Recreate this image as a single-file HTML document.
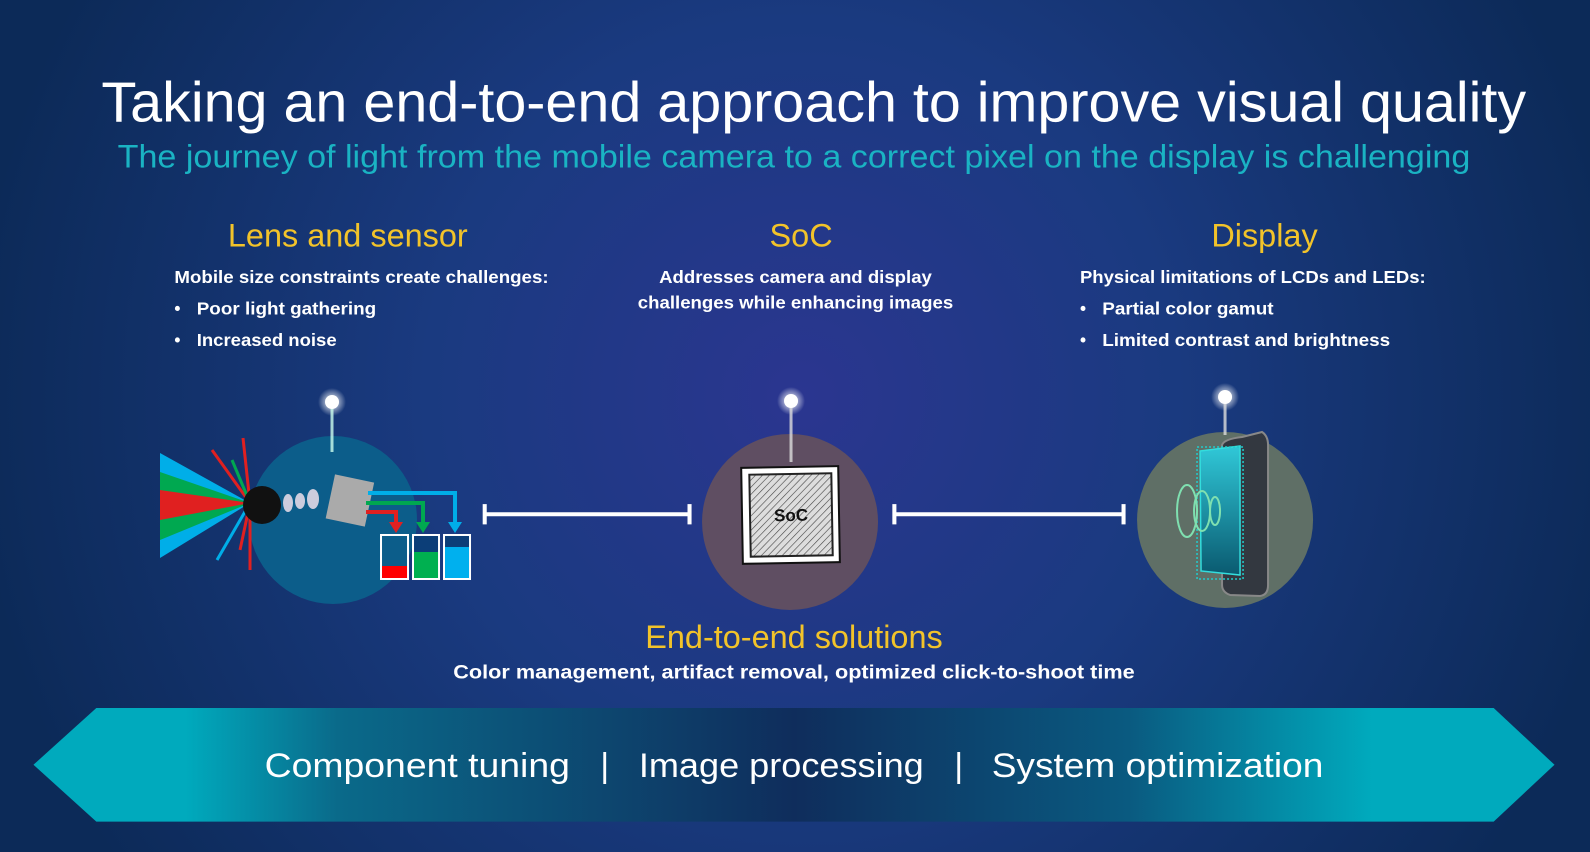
<!DOCTYPE html>
<html><head><meta charset="utf-8"><style>
html,body{margin:0;padding:0;width:1590px;height:852px;overflow:hidden;background:#0e2a5c}
svg{display:block}
text{font-family:"Liberation Sans",sans-serif}
</style></head><body>
<svg width="1590" height="852" viewBox="0 0 1568 840" preserveAspectRatio="none" xmlns="http://www.w3.org/2000/svg">
<defs>
<radialGradient id="bg" cx="790" cy="390" r="820" gradientUnits="userSpaceOnUse">
<stop offset="0" stop-color="#2b3690"/><stop offset="0.45" stop-color="#1a3a80"/><stop offset="1" stop-color="#0c2a58"/>
</radialGradient>
<linearGradient id="ban" x1="33" x2="1533" gradientUnits="userSpaceOnUse">
<stop offset="0.1" stop-color="#00aabd"/><stop offset="0.2" stop-color="#0a6a8a"/><stop offset="0.5" stop-color="#0f2d5c"/><stop offset="0.72" stop-color="#0a5a80"/><stop offset="0.88" stop-color="#00aabd"/>
</linearGradient>
<radialGradient id="halo"><stop offset="0.4" stop-color="#fff" stop-opacity="0.6"/><stop offset="1" stop-color="#fff" stop-opacity="0"/></radialGradient>
<pattern id="hatch" width="5" height="5" patternUnits="userSpaceOnUse" patternTransform="rotate(45)"><rect width="5" height="5" fill="#ddd"/><line x1="0" y1="0" x2="0" y2="5" stroke="#444" stroke-width="1.2"/></pattern>
<linearGradient id="scr" x1="0" y1="0" x2="0" y2="1"><stop offset="0" stop-color="#30c8d8"/><stop offset="1" stop-color="#0a5a70"/></linearGradient>
</defs>
<rect width="1568" height="840" fill="url(#bg)"/>
<text x="100" y="120" font-size="56" fill="#fff" textLength="1405" lengthAdjust="spacingAndGlyphs">Taking an end-to-end approach to improve visual quality</text>
<text x="116" y="165" font-size="32" fill="#1ab3c3" textLength="1334" lengthAdjust="spacingAndGlyphs">The journey of light from the mobile camera to a correct pixel on the display is challenging</text>

<g fill="#f2c32a" font-size="32" text-anchor="middle">
<text x="343" y="243">Lens and sensor</text><text x="790" y="243">SoC</text><text x="1247" y="243">Display</text>
<text x="783" y="639">End-to-end solutions</text></g>
<g fill="#fff" font-size="17" font-weight="bold">
<text x="172" y="279" textLength="369" lengthAdjust="spacingAndGlyphs">Mobile size constraints create challenges:</text>
<text x="172" y="310">•</text><text x="194" y="310" textLength="177" lengthAdjust="spacingAndGlyphs">Poor light gathering</text>
<text x="172" y="341">•</text><text x="194" y="341" textLength="138" lengthAdjust="spacingAndGlyphs">Increased noise</text>
<text x="650" y="279" textLength="269" lengthAdjust="spacingAndGlyphs">Addresses camera and display</text>
<text x="629" y="304" textLength="311" lengthAdjust="spacingAndGlyphs">challenges while enhancing images</text>
<text x="1065" y="279" textLength="341" lengthAdjust="spacingAndGlyphs">Physical limitations of LCDs and LEDs:</text>
<text x="1065" y="310">•</text><text x="1087" y="310" textLength="169" lengthAdjust="spacingAndGlyphs">Partial color gamut</text>
<text x="1065" y="341">•</text><text x="1087" y="341" textLength="284" lengthAdjust="spacingAndGlyphs">Limited contrast and brightness</text>
<text x="447" y="669" font-size="19" textLength="672" lengthAdjust="spacingAndGlyphs">Color management, artifact removal, optimized click-to-shoot time</text>
</g>

<g transform="scale(0.9862 0.9859)">
<!-- circles -->
<circle cx="333" cy="520" r="84" fill="#0c5d8a"/>
<circle cx="790" cy="522" r="88" fill="#5f4e62"/>
<circle cx="1225" cy="520" r="88" fill="#5f6f66"/>
<!-- pins -->
<circle cx="332" cy="402" r="14" fill="url(#halo)"/><line x1="332" y1="402" x2="332" y2="452" stroke="#cfe" stroke-width="3" opacity="0.8"/><circle cx="332" cy="402" r="7" fill="#fff"/>
<circle cx="791" cy="401" r="14" fill="url(#halo)"/><line x1="791" y1="401" x2="791" y2="462" stroke="#ddd" stroke-width="3" opacity="0.8"/><circle cx="791" cy="401" r="7" fill="#fff"/>
<circle cx="1225" cy="397" r="14" fill="url(#halo)"/><line x1="1225" y1="397" x2="1225" y2="435" stroke="#ddd" stroke-width="3" opacity="0.8"/><circle cx="1225" cy="397" r="7" fill="#fff"/>

<!-- camera -->
<polygon points="160,453 250,503 160,558" fill="#00aee8"/>
<polygon points="160,472 250,503 160,540" fill="#00a850"/>
<polygon points="160,490 250,503 160,520" fill="#e02020"/>
<g stroke-width="3" fill="none">
<line x1="250" y1="503" x2="212" y2="450" stroke="#e02020"/><line x1="250" y1="503" x2="232" y2="460" stroke="#00a850"/><line x1="250" y1="503" x2="243" y2="438" stroke="#e02020"/>
<line x1="250" y1="503" x2="217" y2="560" stroke="#00aee8"/><line x1="250" y1="503" x2="240" y2="550" stroke="#e02020"/><line x1="250" y1="503" x2="250" y2="570" stroke="#e02020"/>
</g>
<circle cx="262" cy="505" r="19" fill="#111"/>
<g fill="#ccd"><ellipse cx="288" cy="503" rx="5" ry="9"/><ellipse cx="300" cy="501" rx="5" ry="8"/><ellipse cx="313" cy="499" rx="6" ry="10"/></g>
<rect x="330" y="478" width="40" height="45" fill="#aaa" transform="rotate(12 350 500)"/>
<g stroke-width="4" fill="none">
<polyline points="368,493 455,493 455,525" stroke="#00aee8"/><polyline points="366,503 423,503 423,525" stroke="#00a850"/><polyline points="366,512 396,512 396,525" stroke="#e02020"/></g>
<polygon points="389,522 403,522 396,533" fill="#e02020"/><polygon points="416,522 430,522 423,533" fill="#00a850"/><polygon points="448,522 462,522 455,533" fill="#00aee8"/>
<g stroke="#fff" stroke-width="2"><rect x="381" y="535" width="27" height="44" fill="#0c5d8a"/><rect x="413" y="535" width="26" height="44" fill="#0c3e78"/><rect x="444" y="535" width="26" height="44" fill="#0c3e78"/></g>
<rect x="382" y="566" width="25" height="12" fill="#f00"/><rect x="414" y="552" width="24" height="26" fill="#00b050"/><rect x="445" y="547" width="24" height="31" fill="#00b0ee"/>

<!-- SoC chip -->
<g transform="rotate(-1 790 515)">
<rect x="742" y="467" width="97" height="96" fill="#fff" stroke="#111" stroke-width="2"/>
<rect x="750" y="474" width="82" height="82" fill="url(#hatch)" stroke="#222" stroke-width="2"/>
<text x="791" y="521" font-size="17" font-weight="bold" fill="#111" text-anchor="middle">SoC</text></g>

<!-- phone -->
<path d="M1242,437 L1262,432 Q1268,436 1268,445 L1268,585 Q1268,595 1260,596 L1230,595 Q1222,592 1222,585 L1222,445 Q1224,439 1242,437Z" fill="#333840" stroke="#888" stroke-width="2"/>
<polygon points="1200,451 1240,446 1240,575 1201,571" fill="url(#scr)" stroke="#3dd" stroke-width="1.5"/>
<rect x="1197" y="447" width="46" height="132" fill="none" stroke="#2cc" stroke-width="1.5" stroke-dasharray="2 2"/>
<g fill="none" stroke="#7fe0b0" stroke-width="2"><ellipse cx="1187" cy="511" rx="10" ry="26"/><ellipse cx="1202" cy="511" rx="8" ry="20"/><ellipse cx="1215" cy="511" rx="5" ry="14"/></g>
</g>

<!-- connectors -->
<g stroke="#fff" stroke-width="4"><line x1="478" y1="507" x2="680" y2="507"/><line x1="478" y1="497" x2="478" y2="517"/><line x1="680" y1="497" x2="680" y2="517"/>
<line x1="882" y1="507" x2="1108" y2="507"/><line x1="882" y1="497" x2="882" y2="517"/><line x1="1108" y1="497" x2="1108" y2="517"/></g>

<!-- banner -->
<polygon points="33,754 95,698 1473,698 1533,754 1473,810 95,810" fill="url(#ban)"/>
<g font-size="34" fill="#fff">
<text x="261" y="766" textLength="301" lengthAdjust="spacingAndGlyphs">Component tuning</text>
<text x="592" y="766">|</text>
<text x="630" y="766" textLength="281" lengthAdjust="spacingAndGlyphs">Image processing</text>
<text x="941" y="766">|</text>
<text x="978" y="766" textLength="327" lengthAdjust="spacingAndGlyphs">System optimization</text>
</g>
</svg>
</body></html>
